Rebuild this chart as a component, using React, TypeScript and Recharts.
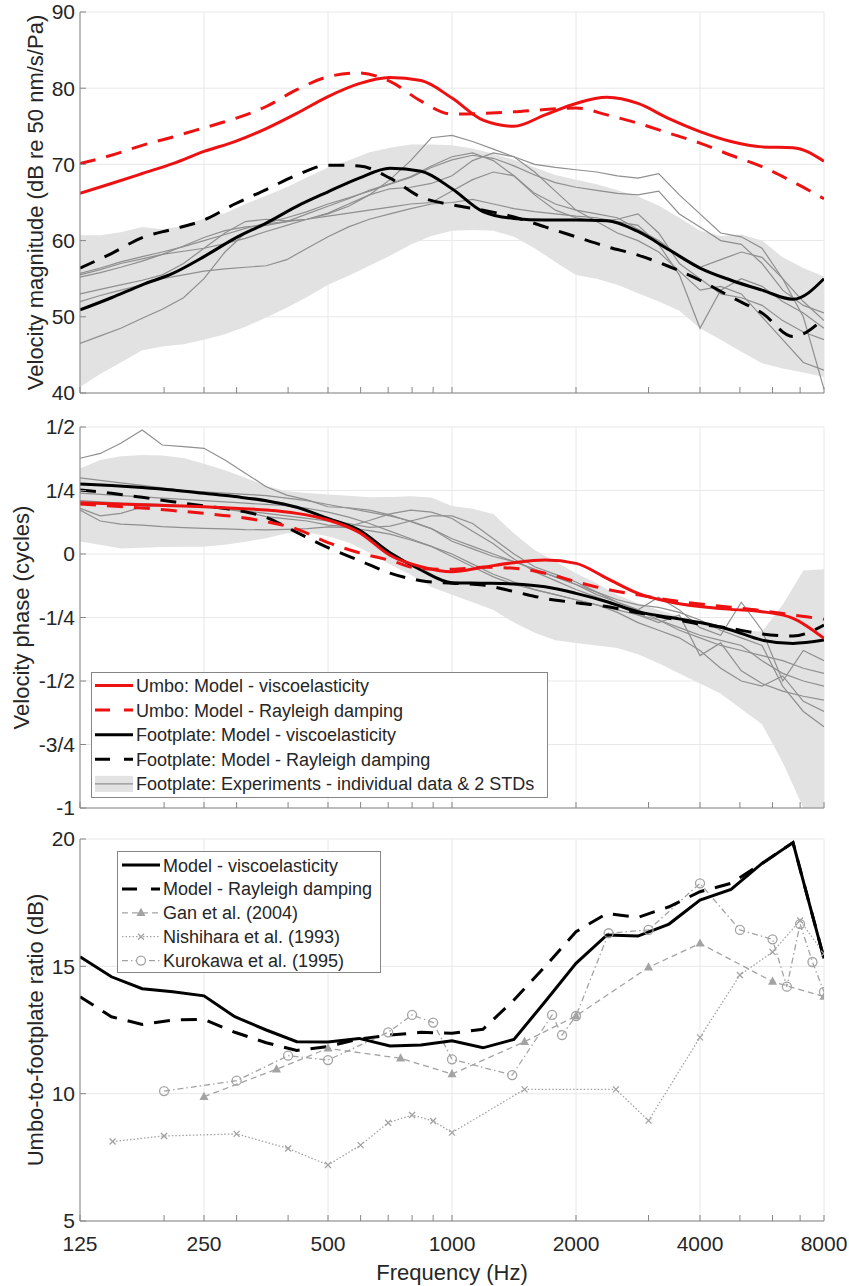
import React from "react";
import { ComposedChart, Line, Area, XAxis, YAxis, CartesianGrid } from "recharts";

const FONT = '"Liberation Sans", Arial, Helvetica, sans-serif';
const AXIS = "#868686";
const TEXT = "#262626";
const GRID = "#e8e8e8";
const BAND = "#e2e2e2";
const EXP = "#8f8f8f";
const LIT = "#a3a3a3";
const RED = "#ee1111";

// frequency grids (Hz)
const MAJOR = [125, 250, 500, 1000, 2000, 4000, 8000];
const ALL_TICKS = [125, 200, 250, 300, 400, 500, 600, 700, 800, 900, 1000, 2000, 3000, 4000, 5000, 6000, 7000, 8000];
const F4 = [125, 149, 177, 210, 250, 297, 354, 420, 500, 595, 707, 841, 1000, 1189, 1414, 1682, 2000, 2378, 2828, 3364, 4000, 4757, 5657, 6727, 8000];
const F6 = [125, 140, 157, 177, 198, 223, 250, 281, 315, 354, 397, 445, 500, 561, 630, 707, 794, 891, 1000, 1122, 1260, 1414, 1587, 1782, 2000, 2245, 2520, 2828, 3175, 3564, 4000, 4490, 5040, 5657, 6350, 7127, 8000];

// panel 1: velocity magnitude (dB)
const umboViscoMag = [66.2, 67.5, 68.8, 70.1, 71.7, 73.0, 74.7, 76.7, 78.9, 80.6, 81.4, 81.0, 78.7, 75.8, 75.0, 76.5, 78.0, 78.8, 78.0, 76.0, 74.3, 73.0, 72.3, 72.2, 70.4];
const umboRayMag = [70.1, 71.2, 72.5, 73.6, 74.8, 76.0, 77.6, 79.8, 81.5, 82.0, 80.9, 78.3, 76.6, 76.7, 76.9, 77.2, 77.4, 76.5, 75.4, 74.1, 72.8, 71.2, 69.7, 67.7, 65.5];
const footViscoMag = [50.9, 52.5, 54.2, 55.7, 57.9, 60.3, 62.3, 64.5, 66.4, 68.2, 69.5, 69.1, 66.8, 63.8, 62.9, 62.7, 62.7, 62.6, 61.2, 58.8, 56.4, 54.8, 53.5, 52.3, 55.0];
const footRayMag = [56.4, 58.3, 60.4, 61.5, 62.7, 64.8, 66.7, 68.6, 69.9, 69.8, 68.2, 65.7, 64.7, 64.0, 63.1, 61.8, 60.5, 59.2, 58.1, 56.6, 54.8, 52.6, 50.5, 47.4, 49.8];
const magHi = [60.7, 60.7, 61.1, 61.8, 61.5, 61.9, 62.9, 63.6, 64.8, 65.9, 67.0, 68.3, 69.6, 70.5, 71.6, 72.2, 72.6, 72.6, 72.5, 72.1, 71.4, 70.6, 69.6, 68.6, 68.0, 67.4, 66.6, 65.8, 64.6, 63.0, 61.3, 60.6, 60.8, 60.0, 57.8, 56.4, 55.3];
const magLo = [40.8, 42.5, 44.0, 45.6, 46.1, 46.4, 47.0, 47.7, 48.7, 49.9, 51.2, 52.6, 54.2, 55.4, 56.7, 58.0, 59.5, 60.6, 61.3, 61.4, 61.3, 60.5, 59.0, 57.2, 55.5, 55.0, 54.2, 53.1, 52.0, 50.8, 48.5, 47.0, 45.4, 43.9, 43.2, 42.7, 42.1];
const mag1 = [55.7, 56.4, 57.2, 57.9, 58.5, 59.2, 60.0, 60.8, 61.6, 62.3, 63.0, 63.8, 64.8, 65.6, 66.5, 67.4, 68.3, 69.6, 70.6, 71.2, 70.8, 69.8, 68.6, 67.6, 67.0, 66.6, 66.2, 66.0, 66.5, 63.5, 61.8, 60.0, 59.5, 57.0, 53.5, 51.5, 50.5];
const mag2 = [55.2, 55.8, 56.5, 57.3, 58.2, 59.3, 60.4, 61.3, 61.8, 62.0, 62.5, 63.5, 64.5, 65.5, 66.6, 67.5, 68.4, 69.8, 71.0, 71.5, 70.5, 68.5, 66.2, 64.8, 64.0, 63.5, 63.0, 61.5, 60.0, 58.0, 56.5, 57.5, 58.5, 57.8, 55.0, 52.0, 49.5];
const mag3 = [52.0, 52.8, 53.5, 54.2, 55.0, 55.5, 56.0, 56.3, 56.5, 56.7, 57.5, 59.0, 60.5, 61.8, 62.8, 63.5, 64.2, 64.8, 65.0, 65.4, 64.8, 64.2, 63.8, 63.5, 63.2, 63.0, 62.5, 62.0, 59.5, 55.5, 48.5, 53.5, 55.0, 54.0, 52.0, 50.5, 48.5];
const mag4 = [46.5, 47.5, 48.5, 49.8, 51.0, 52.5, 55.0, 58.5, 61.0, 62.2, 62.5, 62.8, 63.5, 64.5, 66.0, 68.0, 70.5, 73.5, 73.8, 73.0, 72.0, 71.0, 70.0, 69.6, 69.3, 69.0, 68.5, 68.2, 68.8, 66.0, 63.5, 61.0, 60.5, 59.0, 55.0, 50.0, 40.5];
const mag5 = [55.5, 56.2, 57.0, 57.6, 58.2, 58.6, 59.0, 59.6, 60.3, 61.2, 62.0, 62.8, 63.2, 63.6, 64.0, 64.4, 64.8, 65.0, 66.5, 68.0, 69.0, 68.5, 66.0, 64.0, 63.0, 62.5, 62.8, 63.5, 61.0, 57.0, 55.0, 53.0, 52.5, 51.5, 49.5, 48.0, 47.0];
const mag6 = [53.0, 53.6, 54.2, 54.8, 55.5, 57.0, 59.0, 61.0, 62.5, 62.8, 62.6, 62.8, 63.6, 64.8, 66.0, 66.8, 67.0, 67.5, 68.5, 70.5, 71.5, 71.0, 69.0, 66.5, 64.0, 62.5, 61.0, 60.0, 58.5, 56.0, 53.5, 54.0, 53.0, 50.0, 47.0, 44.0, 43.0];

// panel 2: velocity phase (cycles)
const umboViscoPh = [0.202, 0.198, 0.194, 0.19, 0.186, 0.18, 0.173, 0.16, 0.134, 0.085, -0.005, -0.05, -0.07, -0.052, -0.034, -0.024, -0.037, -0.096, -0.155, -0.188, -0.207, -0.218, -0.227, -0.253, -0.332];
const umboRayPh = [0.197, 0.189, 0.181, 0.171, 0.16, 0.147, 0.127, 0.098, 0.045, 0.005, -0.025, -0.058, -0.06, -0.052, -0.056, -0.076, -0.109, -0.139, -0.161, -0.181, -0.197, -0.21, -0.223, -0.24, -0.257];
const footViscoPh = [0.276, 0.27, 0.262, 0.252, 0.239, 0.226, 0.21, 0.184, 0.14, 0.094, 0.005, -0.063, -0.113, -0.115, -0.118, -0.129, -0.155, -0.188, -0.227, -0.249, -0.27, -0.299, -0.339, -0.352, -0.339];
const footRayPh = [0.252, 0.239, 0.223, 0.206, 0.189, 0.173, 0.144, 0.085, 0.025, -0.025, -0.075, -0.105, -0.115, -0.122, -0.148, -0.175, -0.192, -0.207, -0.231, -0.253, -0.276, -0.293, -0.315, -0.323, -0.28];
const phHi = [0.337, 0.37, 0.385, 0.39, 0.388, 0.378, 0.355, 0.33, 0.3, 0.268, 0.247, 0.24, 0.234, 0.229, 0.223, 0.224, 0.227, 0.222, 0.189, 0.178, 0.157, 0.081, 0.016, -0.03, -0.076, -0.115, -0.161, -0.194, -0.22, -0.245, -0.265, -0.285, -0.3, -0.305, -0.2, -0.065, -0.06];
const phLo = [0.049, 0.036, 0.022, 0.025, 0.028, 0.029, 0.029, 0.036, 0.048, 0.062, 0.082, 0.085, 0.07, 0.045, 0.005, -0.04, -0.082, -0.13, -0.16, -0.19, -0.22, -0.27, -0.31, -0.34, -0.35, -0.36, -0.37, -0.395, -0.43, -0.47, -0.51, -0.55, -0.61, -0.67, -0.82, -1.0, -1.0];
const ph1 = [0.377, 0.396, 0.436, 0.488, 0.429, 0.423, 0.416, 0.37, 0.318, 0.265, 0.232, 0.213, 0.186, 0.182, 0.173, 0.154, 0.127, 0.1, 0.05, 0.02, -0.01, -0.03, -0.06, -0.09, -0.12, -0.16, -0.19, -0.22, -0.26, -0.3, -0.33, -0.36, -0.38, -0.4, -0.42, -0.45, -0.47];
const ph2 = [0.18, 0.15, 0.16, 0.185, 0.192, 0.19, 0.186, 0.178, 0.165, 0.147, 0.138, 0.13, 0.114, 0.108, 0.132, 0.158, 0.173, 0.165, 0.14, 0.09, 0.04, -0.02, -0.07, -0.105, -0.14, -0.17, -0.2, -0.24, -0.27, -0.24, -0.4, -0.35, -0.46, -0.51, -0.54, -0.56, -0.575];
const ph3 = [0.173, 0.13, 0.118, 0.114, 0.108, 0.104, 0.101, 0.099, 0.096, 0.095, 0.097, 0.1, 0.107, 0.104, 0.092, 0.078, 0.055, 0.03, 0.0, -0.04, -0.08, -0.11, -0.14, -0.16, -0.18, -0.2, -0.23, -0.27, -0.3, -0.33, -0.38, -0.45, -0.5, -0.52, -0.48, -0.58, -0.62];
const ph4 = [0.21, 0.205, 0.2, 0.198, 0.195, 0.19, 0.185, 0.178, 0.17, 0.16, 0.15, 0.14, 0.13, 0.12, 0.105, 0.11, 0.13, 0.15, 0.15, 0.12, 0.06, 0.0, -0.05, -0.08, -0.11, -0.15, -0.19, -0.22, -0.17, -0.22, -0.29, -0.32, -0.19, -0.3, -0.5, -0.38, -0.42];
const ph5 = [0.24, 0.235, 0.23, 0.225, 0.22, 0.215, 0.21, 0.205, 0.2, 0.195, 0.19, 0.18, 0.165, 0.145, 0.12, 0.09, 0.06, 0.03, -0.01, -0.05, -0.09, -0.12, -0.14, -0.16, -0.18, -0.2, -0.22, -0.24, -0.26, -0.29, -0.32, -0.34, -0.36, -0.42, -0.47, -0.5, -0.52];
const ph6 = [0.3, 0.29, 0.28, 0.27, 0.26, 0.25, 0.245, 0.24, 0.235, 0.23, 0.22, 0.21, 0.195, 0.18, 0.165, 0.15, 0.13, 0.1, 0.06, 0.03, 0.0, -0.03, -0.06, -0.09, -0.12, -0.15, -0.18, -0.2, -0.21, -0.23, -0.26, -0.3, -0.33, -0.36, -0.52, -0.62, -0.68];
const PHASE_LABELS: Record<string, string> = { "-1": "-1", "-0.75": "-3/4", "-0.5": "-1/2", "-0.25": "-1/4", "0": "0", "0.25": "1/4", "0.5": "1/2" };

// panel 3: umbo-to-footplate ratio (dB)
const ratioVisco = [15.38, 14.59, 14.12, 14.0, 13.84, 13.02, 12.5, 12.04, 12.03, 12.17, 11.87, 11.91, 12.08, 11.8, 12.13, 13.61, 15.12, 16.23, 16.19, 16.66, 17.6, 18.02, 19.04, 19.86, 15.31];
const ratioRay = [13.81, 13.02, 12.72, 12.89, 12.92, 12.41, 12.0, 11.7, 11.85, 12.15, 12.3, 12.41, 12.37, 12.53, 13.68, 14.99, 16.36, 17.08, 16.92, 17.34, 17.93, 18.26, 19.04, 19.86, 15.31];
const ganF = [250, 375, 500, 750, 1000, 1500, 2000, 3000, 4000, 6000, 8000];
const ganV = [9.88, 10.96, 11.78, 11.39, 10.77, 12.04, 13.05, 14.96, 15.9, 14.4, 13.81];
const nishF = [150, 200, 300, 400, 500, 600, 700, 800, 900, 1000, 1500, 2500, 3000, 4000, 5000, 6000, 7000, 8000];
const nishV = [8.12, 8.34, 8.42, 7.85, 7.2, 7.98, 8.86, 9.16, 8.93, 8.47, 10.17, 10.17, 8.94, 12.21, 14.66, 15.56, 16.8, 15.5];
const kuroF = [200, 300, 400, 500, 700, 800, 900, 1000, 1400, 1750, 1850, 2000, 2400, 3000, 4000, 5000, 6000, 6500, 7000, 7500, 8000];
const kuroV = [10.1, 10.51, 11.49, 11.32, 12.41, 13.09, 12.79, 11.35, 10.73, 13.09, 12.3, 13.05, 16.3, 16.43, 18.26, 16.43, 16.06, 14.2, 16.66, 15.17, 14.0];

const pts = (fs: number[], vs: number[]) => fs.map((f, i) => ({ f, v: vs[i] }));
const band = (fs: number[], lo: number[], hi: number[]) => fs.map((f, i) => ({ f, lo: lo[i], hi: hi[i] }));

const tickStyle = { fill: TEXT, fontSize: 21, fontFamily: FONT };

function yLabel(text: string, bx: number) {
  return (props: any) => {
    const vb = props.viewBox || {};
    const cy = vb.y + vb.height / 2;
    return (
      <text x={bx} y={cy} transform={`rotate(-90, ${bx}, ${cy})`} textAnchor="middle" fontSize={22} fontFamily={FONT} fill={TEXT}>
        {text}
      </text>
    );
  };
}

function xLabel(props: any) {
  const vb = props.viewBox || {};
  return (
    <text x={vb.x + vb.width / 2} y={vb.y + 59} textAnchor="middle" fontSize={22} fontFamily={FONT} fill={TEXT}>
      Frequency (Hz)
    </text>
  );
}

function Tri(p: any) {
  const { cx, cy, index } = p;
  if (cx == null || cy == null) return <g key={index} />;
  return <path key={index} d={`M${cx} ${cy - 5}L${cx + 4.5} ${cy + 3.2}L${cx - 4.5} ${cy + 3.2}Z`} fill={LIT} />;
}
function Cross(p: any) {
  const { cx, cy, index } = p;
  if (cx == null || cy == null) return <g key={index} />;
  return <path key={index} d={`M${cx - 3} ${cy - 3}L${cx + 3} ${cy + 3}M${cx - 3} ${cy + 3}L${cx + 3} ${cy - 3}`} stroke={LIT} strokeWidth={1.3} />;
}
function Ring(p: any) {
  const { cx, cy, index } = p;
  if (cx == null || cy == null) return <g key={index} />;
  return <circle key={index} cx={cx} cy={cy} r={4.5} fill="none" stroke={LIT} strokeWidth={1.3} />;
}

type PanelProps = {
  top: number;
  height: number;
  marginTop: number;
  xHeight: number;
  domain: [number, number];
  yTicks: number[];
  yFmt?: (v: number) => string;
  label: string;
  labelX: number;
  showX?: boolean;
  children: React.ReactNode;
};

function Panel({ top, height, marginTop, xHeight, domain, yTicks, yFmt, label, labelX, showX, children }: PanelProps) {
  return (
    <div style={{ position: "absolute", left: 0, top }}>
      <ComposedChart width={849} height={height} margin={{ top: marginTop, right: 25, bottom: 0, left: 20 }}>
        <XAxis xAxisId="grid" dataKey="f" type="number" scale="log" domain={[125, 8000]} ticks={MAJOR} hide allowDataOverflow />
        <CartesianGrid xAxisId="grid" stroke={GRID} strokeWidth={1} />
        <XAxis
          dataKey="f"
          type="number"
          scale="log"
          domain={[125, 8000]}
          ticks={ALL_TICKS}
          interval={0}
          tickSize={-6}
          tickMargin={21}
          height={xHeight}
          stroke={AXIS}
          tick={tickStyle}
          tickFormatter={(v: number) => (showX && MAJOR.includes(v) ? String(v) : "")}
          allowDataOverflow
          label={showX ? xLabel : undefined}
        />
        <XAxis xAxisId="top" orientation="top" dataKey="f" type="number" scale="log" domain={[125, 8000]} ticks={ALL_TICKS} interval={0} tickSize={-6} height={0} stroke={AXIS} tickFormatter={() => ""} allowDataOverflow />
        <YAxis
          type="number"
          domain={domain}
          ticks={yTicks}
          interval={0}
          tickSize={-6}
          tickMargin={11}
          width={60}
          stroke={AXIS}
          tick={tickStyle}
          tickFormatter={yFmt}
          allowDataOverflow
          label={yLabel(label, labelX)}
        />
        <YAxis yAxisId="r" orientation="right" type="number" domain={domain} ticks={yTicks} interval={0} tickSize={-6} width={0} stroke={AXIS} tickFormatter={() => ""} allowDataOverflow />
        {children}
      </ComposedChart>
    </div>
  );
}

const model = (data: any[], color: string, dashed: boolean, key: string, curve: any = "monotone") => (
  <Line
    key={key}
    data={data}
    dataKey="v"
    type={curve}
    stroke={color}
    strokeWidth={3}
    strokeDasharray={dashed ? "16 11" : undefined}
    dot={false}
    activeDot={false}
    isAnimationActive={false}
  />
);

const expLine = (vs: number[], key: string) => (
  <Line key={key} data={pts(F6, vs)} dataKey="v" type="linear" stroke={EXP} strokeWidth={1.2} dot={false} activeDot={false} isAnimationActive={false} />
);

type Row = { label: string; color: string; dash?: string; width?: number; band?: boolean; marker?: string };

const phaseLegend: Row[] = [
  { label: "Umbo: Model - viscoelasticity", color: RED },
  { label: "Umbo: Model - Rayleigh damping", color: RED, dash: "15 14" },
  { label: "Footplate: Model - viscoelasticity", color: "#000" },
  { label: "Footplate: Model - Rayleigh damping", color: "#000", dash: "15 14" },
  { label: "Footplate: Experiments - individual data & 2 STDs", color: EXP, width: 1.2, band: true },
];
const ratioLegend: Row[] = [
  { label: "Model - viscoelasticity", color: "#000" },
  { label: "Model - Rayleigh damping", color: "#000", dash: "15 14" },
  { label: "Gan et al. (2004)", color: LIT, dash: "6 4", width: 1.3, marker: "tri" },
  { label: "Nishihara et al. (1993)", color: LIT, dash: "1.5 2", width: 1.3, marker: "x" },
  { label: "Kurokawa et al. (1995)", color: LIT, dash: "6 3 1.5 3", width: 1.3, marker: "o" },
];

function LegendBox({ left, top, width, height, rows, first, gap, x1, x2 }: { left: number; top: number; width: number; height: number; rows: Row[]; first: number; gap: number; x1: number; x2: number }) {
  const mx = (x1 + x2) / 2;
  return (
    <svg style={{ position: "absolute", left, top }} width={width + 1} height={height + 1}>
      <rect x={0.5} y={0.5} width={width} height={height} fill="#fff" stroke={AXIS} />
      {rows.map((r, i) => {
        const cy = first + i * gap;
        return (
          <g key={i}>
            {r.band && <rect x={x1} y={cy - 8} width={x2 - x1} height={16} fill={BAND} />}
            <line x1={x1} x2={x2} y1={cy} y2={cy} stroke={r.color} strokeWidth={r.width || 3} strokeDasharray={r.dash} />
            {r.marker === "tri" && Tri({ cx: mx, cy, index: 0 })}
            {r.marker === "x" && Cross({ cx: mx, cy, index: 0 })}
            {r.marker === "o" && <circle cx={mx} cy={cy} r={4.5} fill="#fff" stroke={LIT} strokeWidth={1.3} />}
            <text x={x2 + 3} y={cy + 6.5} fontSize={18} fontFamily={FONT} fill={TEXT}>
              {r.label}
            </text>
          </g>
        );
      })}
    </svg>
  );
}

export default function App() {
  return (
    <div style={{ position: "absolute", left: 0, top: 0, width: 849, height: 1286, background: "#fff" }}>
      <Panel top={0} height={410} marginTop={12} xHeight={17} domain={[40, 90]} yTicks={[40, 50, 60, 70, 80, 90]} label="Velocity magnitude (dB re 50 nm/s/Pa)" labelX={43}>
        <Area data={band(F6, magLo, magHi)} dataKey={(d: any) => [d.lo, d.hi]} type="linear" stroke="none" fill={BAND} fillOpacity={1} dot={false} activeDot={false} isAnimationActive={false} />
        {expLine(mag1, "m1")}
        {expLine(mag2, "m2")}
        {expLine(mag3, "m3")}
        {expLine(mag4, "m4")}
        {expLine(mag5, "m5")}
        {expLine(mag6, "m6")}
        {model(pts(F4, footRayMag), "#000", true, "fr")}
        {model(pts(F4, footViscoMag), "#000", false, "fv")}
        {model(pts(F4, umboRayMag), RED, true, "ur")}
        {model(pts(F4, umboViscoMag), RED, false, "uv")}
      </Panel>
      <Panel
        top={410}
        height={410}
        marginTop={17}
        xHeight={12}
        domain={[-1, 0.5]}
        yTicks={[-1, -0.75, -0.5, -0.25, 0, 0.25, 0.5]}
        yFmt={(v: number) => PHASE_LABELS[String(v)] ?? String(v)}
        label="Velocity phase (cycles)"
        labelX={29}
      >
        <Area data={band(F6, phLo, phHi)} dataKey={(d: any) => [d.lo, d.hi]} type="linear" stroke="none" fill={BAND} fillOpacity={1} dot={false} activeDot={false} isAnimationActive={false} />
        {expLine(ph1, "p1")}
        {expLine(ph2, "p2")}
        {expLine(ph3, "p3")}
        {expLine(ph4, "p4")}
        {expLine(ph5, "p5")}
        {expLine(ph6, "p6")}
        {model(pts(F4, footRayPh), "#000", true, "fr")}
        {model(pts(F4, footViscoPh), "#000", false, "fv")}
        {model(pts(F4, umboRayPh), RED, true, "ur")}
        {model(pts(F4, umboViscoPh), RED, false, "uv")}
      </Panel>
      <Panel top={820} height={466} marginTop={19} xHeight={65} domain={[5, 20]} yTicks={[5, 10, 15, 20]} label="Umbo-to-footplate ratio (dB)" labelX={43} showX>
        <Line data={pts(nishF, nishV)} dataKey="v" type="linear" stroke={LIT} strokeWidth={1.3} strokeDasharray="1.5 2" dot={Cross} activeDot={false} isAnimationActive={false} />
        <Line data={pts(ganF, ganV)} dataKey="v" type="linear" stroke={LIT} strokeWidth={1.3} strokeDasharray="6 4" dot={Tri} activeDot={false} isAnimationActive={false} />
        <Line data={pts(kuroF, kuroV)} dataKey="v" type="linear" stroke={LIT} strokeWidth={1.3} strokeDasharray="6 3 1.5 3" dot={Ring} activeDot={false} isAnimationActive={false} />
        {model(pts(F4, ratioRay), "#000", true, "rr", "linear")}
        {model(pts(F4, ratioVisco), "#000", false, "rv", "linear")}
      </Panel>
      <LegendBox left={91} top={672} width={456} height={125} rows={phaseLegend} first={13.5} gap={24.6} x1={4} x2={42} />
      <LegendBox left={117} top={851} width={263} height={121} rows={ratioLegend} first={14} gap={23.9} x1={5} x2={43} />
    </div>
  );
}
